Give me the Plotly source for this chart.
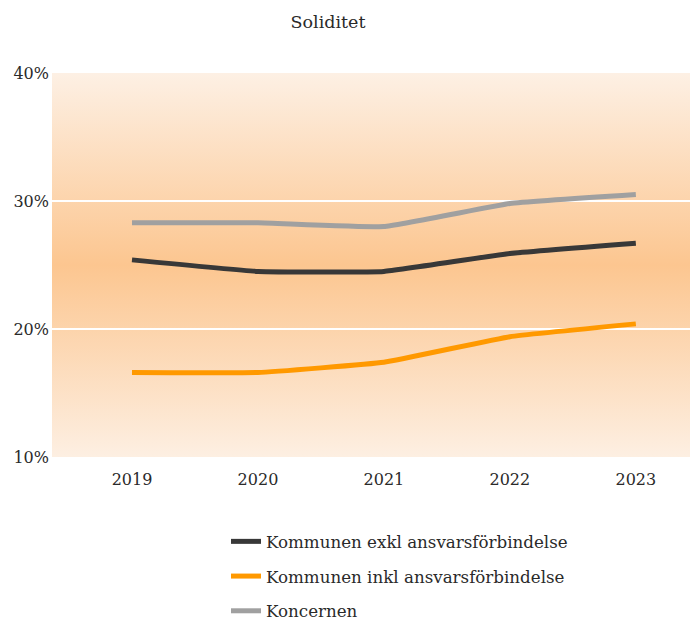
import base64

import plotly.graph_objects as go

years = [2019, 2020, 2021, 2022, 2023]
exkl = [25.4, 24.5, 24.5, 25.9, 26.7]
inkl = [16.6, 16.6, 17.4, 19.4, 20.4]
koncernen = [28.3, 28.3, 28.0, 29.8, 30.5]
y_ticks = [10, 20, 30, 40]

series = [
    ("Kommunen exkl ansvarsförbindelse", exkl, "#383838"),
    ("Kommunen inkl ansvarsförbindelse", inkl, "#ff9900"),
    ("Koncernen", koncernen, "#a0a0a0"),
]

FONT = "DejaVu Serif"
TEXT = "#2a2a2a"

# vertical gradient for the plot background (light - orange - light)
svg = (
    '<svg xmlns="http://www.w3.org/2000/svg" viewBox="0 0 10 10" '
    'preserveAspectRatio="none">'
    '<defs><linearGradient id="g" x1="0" y1="0" x2="0" y2="1">'
    '<stop offset="0" stop-color="#fdf0e4"/>'
    '<stop offset="0.5" stop-color="#fcc690"/>'
    '<stop offset="1" stop-color="#fdefe2"/>'
    "</linearGradient></defs>"
    '<rect width="10" height="10" fill="url(#g)"/></svg>'
)
bg_src = "data:image/svg+xml;base64," + base64.b64encode(svg.encode()).decode()

fig = go.Figure()

for i, (name, values, color) in enumerate(series):
    fig.add_trace(
        go.Scatter(
            x=years,
            y=values,
            name=name,
            mode="lines",
            line=dict(color=color, width=5, shape="spline", smoothing=0.3),
            legendgroup=f"g{i}",
        )
    )

fig.add_layout_image(
    source=bg_src,
    xref="paper",
    yref="paper",
    x=0,
    y=1,
    sizex=1,
    sizey=1,
    xanchor="left",
    yanchor="top",
    sizing="stretch",
    layer="below",
)

fig.update_layout(
    width=690,
    height=621,
    margin=dict(l=52, r=0, t=73, b=164, autoexpand=False),
    paper_bgcolor="white",
    plot_bgcolor="white",
    font=dict(family=FONT, color=TEXT),
    title=dict(
        text="Soliditet",
        x=0.4754,
        xanchor="center",
        y=0.9646,
        yanchor="middle",
        font=dict(size=17.5, family=FONT, color=TEXT),
    ),
    showlegend=True,
    legend=dict(
        orientation="v",
        x=0.2727,
        xanchor="left",
        y=-0.1745,
        yanchor="top",
        font=dict(size=16.7, family=FONT, color=TEXT),
        tracegroupgap=10,
        bgcolor="rgba(0,0,0,0)",
    ),
    xaxis=dict(
        range=[2018.365, 2023.43],
        tickvals=years,
        ticktext=[str(y) for y in years],
        showgrid=False,
        zeroline=False,
        showline=False,
        ticks="",
        ticklabelstandoff=11,
        tickfont=dict(size=16, family=FONT),
    ),
    yaxis=dict(
        range=[10, 40],
        tickvals=y_ticks,
        ticktext=[f"{t}%" for t in y_ticks],
        showgrid=True,
        gridcolor="white",
        gridwidth=2,
        zeroline=False,
        showline=False,
        ticks="",
        ticklabelstandoff=2,
        tickfont=dict(size=16, family=FONT),
    ),
)

# drop the default body margin so the figure fills the window exactly
fig.write_html(
    "out.html",
    config={"displayModeBar": False},
    post_script="document.body.style.margin='0';document.body.style.overflow='hidden';",
)
